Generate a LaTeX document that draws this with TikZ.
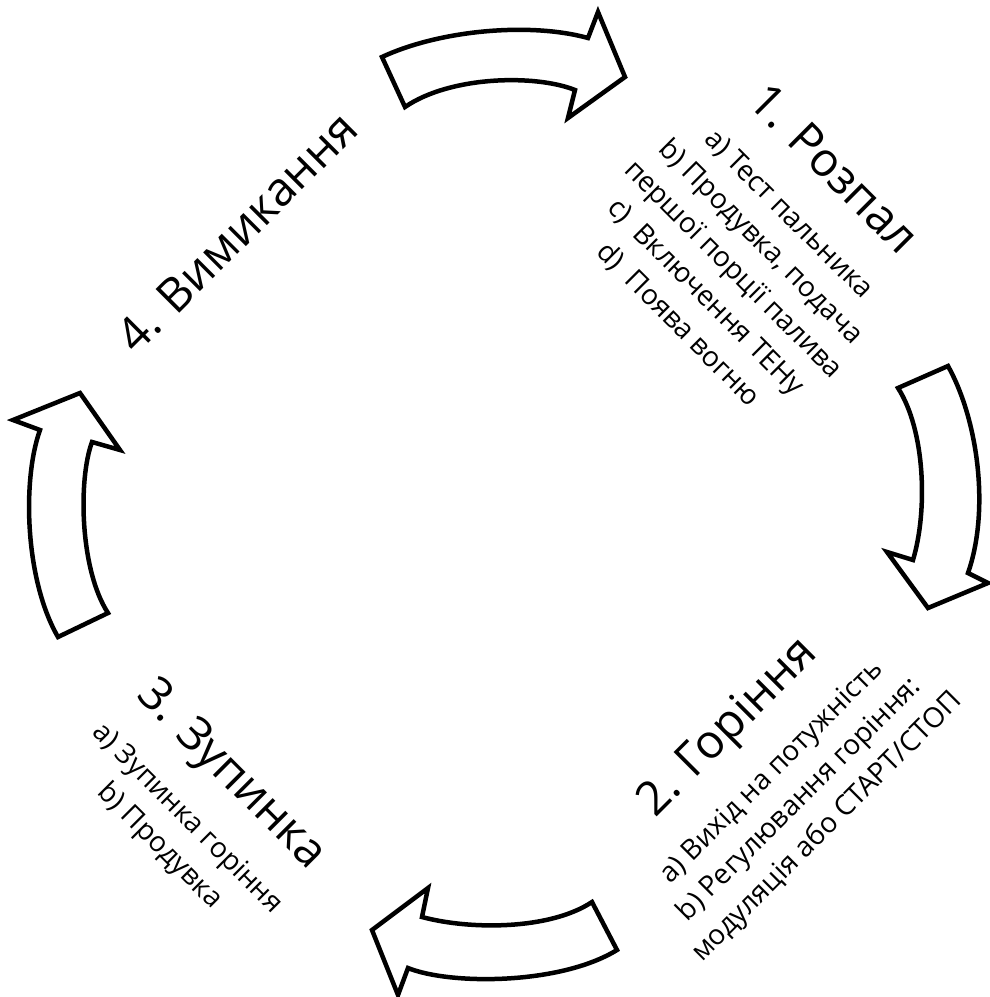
\documentclass[tikz,border=0pt]{standalone}
\usepackage{fontspec}
\setmainfont{Open Sans}

\tikzset{
  cyclearrow/.style={draw=black, line width=4.5pt, fill=white, line join=miter},
  stagebox/.style={font=\fontsize{28}{39}\selectfont, align=center, inner sep=0pt},
}
\newcommand{\stagehead}[1]{{\fontsize{47}{52}\selectfont #1}}

\begin{document}
\begin{tikzpicture}[x=1pt, y=-1pt]
\useasboundingbox (0,0) rectangle (989,997);
% arrows round the cycle
\draw[cyclearrow] (382,57) .. controls (440,30) and (530,22) .. (588,38) -- (598,12) -- (625,77) -- (568,118) -- (575,90) .. controls (535,74) and (450,76) .. (405,107) -- cycle;
\draw[cyclearrow] (898,388) -- (948,366) .. controls (978,420) and (990,510) .. (968,573) -- (988,583) -- (928,608) -- (887,552) -- (913,560) .. controls (928,510) and (925,430) .. cycle;
\draw[cyclearrow] (592,902) -- (617,950) .. controls (560,985) and (450,985) .. (408,968) -- (398,995) -- (372,930) -- (428,888) -- (422,917) .. controls (470,930) and (550,930) .. cycle;
\draw[cyclearrow] (58,637) -- (108,613) .. controls (80,570) and (78,480) .. (92,442) -- (120,450) -- (80,393) -- (13,420) -- (40,430) .. controls (22,480) and (25,580) .. cycle;
% stage texts
\node[stagebox, rotate=-45] (burnup) at (758,245) {\stagehead{1. Розпал}\\[18pt]
  a) Тест пальника\\ b) Продувка, подача\\ першої порції палива\\ c)\ \ Включення ТЕНу\\ d)\ \ Поява вогню};
\node[stagebox, rotate=45] (burning) at (775,775) {\stagehead{2. Горіння}\\[18pt]
  a) Вихід на потужність\\ b) Регулювання горіння:\\ модуляція або СТАРТ/СТОП};
\node[stagebox, rotate=-45] (stopping) at (198,808) {\stagehead{3. Зупинка}\\[18pt]
  a) Зупинка горіння\\ b) Продувка};
\node[stagebox, rotate=45] (shutdown) at (237,232) {\stagehead{4. Вимикання}};
\end{tikzpicture}
\end{document}
